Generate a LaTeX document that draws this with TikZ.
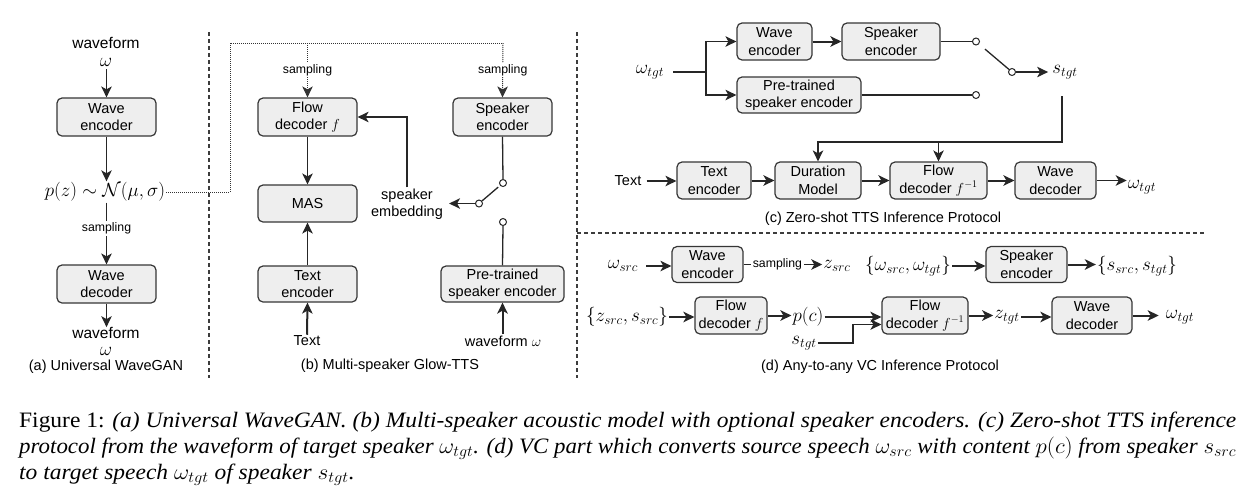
\documentclass[tikz,border=0pt]{standalone}
\usepackage{fix-cm}
\usepackage[no-math]{fontspec}
\setmainfont{Liberation Sans}
\newfontfamily\capserif{Liberation Serif}
\usetikzlibrary{arrows.meta,calc}
\definecolor{boxfill}{RGB}{238,238,238}
\definecolor{boxline}{RGB}{54,54,54}
\definecolor{sepcol}{RGB}{60,60,60}
\newcommand\labfont{\fontsize{14.5}{17.5}\selectfont}
\newcommand\smlfont{\fontsize{12.3}{14}\selectfont}
\newcommand\mthfont{\fontsize{19}{22}\selectfont}
\newcommand\wffont{\fontsize{15.5}{18}\selectfont}
\newcommand\capfnt{\capserif\fontsize{22}{23}\selectfont}
\newsavebox\capboxA
\newlength\capwd
\begin{document}
\sbox\capboxA{\capfnt Figure 1: \textit{(a) Universal WaveGAN. (b) Multi-speaker acoustic model with optional speaker encoders. (c) Zero-shot TTS inference}}%
\setlength\capwd{\wd\capboxA}%
\pgfmathsetmacro\capscale{1217pt/\capwd}%
\begin{tikzpicture}[x=1pt,y=-1pt,
 box/.style={draw=boxline, fill=boxfill, rounded corners=5pt, line width=1.2pt, align=center, font=\labfont, inner sep=0pt, text=black},
 txt/.style={font=\labfont, inner sep=1pt, align=center},
 mth/.style={font=\mthfont, inner sep=1pt},
 lbl/.style={font=\smlfont, fill=white, inner sep=1.5pt},
 conn/.style={line width=1.3pt, draw=black!85},
 tip/.style={-{Stealth[length=11pt,width=10.5pt,inset=3pt]}},
 arr/.style={conn, tip},
 tarr/.style={arr, line width=2pt},
 sw/.style={circle, draw=black!85, fill=white, line width=1pt, inner sep=0pt, minimum size=7pt},
 sepline/.style={line width=1.1pt, draw=sepcol, dash pattern=on 4pt off 3pt},
 dotl/.style={line width=1pt, draw=black!80, dash pattern=on 1pt off 1pt},
]
\useasboundingbox (0,0) rectangle (1260,488);

% separators
\draw[sepline] (209,32) -- (209,378);
\draw[sepline] (577,32) -- (577,378);
\draw[sepline] (577,233) -- (1205,233);

% ---------- (a)
\node[txt,font=\wffont,inner sep=0pt] (wf1) at (106,43) {waveform};
\node[mth,inner sep=0pt] (om1) at (106,62) {$\omega$};
\node[box,minimum width=99pt,minimum height=38pt] (wea) at (106.5,117) {Wave\\encoder};
\node[mth] (pz) at (105,192) {$p(z)\sim\mathcal{N}(\mu,\sigma)$};
\node[box,minimum width=99pt,minimum height=38pt] (wda) at (106.5,284) {Wave\\decoder};
\node[txt,font=\wffont,inner sep=0pt] (wf2) at (106,333) {waveform};
\node[mth,inner sep=0pt] (om2) at (106,351) {$\omega$};
\node[txt] (capa) at (106,367) {(a) Universal WaveGAN};
\draw[arr] ([yshift=-3pt]om1.south -| wea.north) -- (wea.north);
\draw[arr] (wea.south) -- (wea.south |- pz.north);
\draw[arr] (wda.north |- pz.south) -- node[lbl,pos=0.42]{sampling} (wda.north);
\draw[arr] (wda.south) -- (wda.south |- wf2.north);

% ---------- (b)
\node[box,minimum width=99pt,minimum height=38pt] (fd) at (307.5,117) {Flow\\decoder $f$};
\node[box,minimum width=99pt,minimum height=37pt] (mas) at (307.5,203.5) {MAS};
\node[box,minimum width=99pt,minimum height=36pt] (te) at (307.5,284) {Text\\encoder};
\node[txt] (tx) at (307,341) {Text};
\node[box,minimum width=99pt,minimum height=38pt] (spe) at (502.5,117) {Speaker\\encoder};
\node[box,minimum width=123pt,minimum height=36pt] (pte) at (502.5,284) {Pre-trained\\speaker encoder};
\node[txt] (wfb) at (503,341) {waveform $\omega$};
\node[txt] (emb) at (407,204) {speaker\\embedding};
\node[txt] (capb) at (390,366) {(b) Multi-speaker Glow-TTS};
\coordinate (d0) at (230,192);
\coordinate (d1) at (230,43);
\coordinate (d2) at (503,43);
\draw[dotl] (pz.east) -- (d0) -- (d1) -- (d2);
\draw[dotl,tip] (fd.north |- d1) -- node[lbl]{sampling} (fd.north);
\draw[dotl,tip] (d2) -- node[lbl]{sampling} (spe.north);
\draw[arr] (fd) -- (mas);
\draw[arr] (te) -- (mas);
\draw[tarr] (tx.north) -- (te.south);
\draw[arr] (emb.north) |- (fd.east);
\node[sw] (c1) at (503,183) {};
\node[sw] (c2) at (503,222) {};
\node[sw] (pv) at (479,203.5) {};
\draw[conn] (spe.south) -- (c1.north);
\draw[conn] (c2.south) -- (pte.north);
\draw[conn] (pv) -- ($(pv)!0.8!(c1)$);
\draw[arr] (pv.west) -- ([xshift=5pt]pv.west -| emb.east);
\draw[tarr] (wfb.north -| pte.south) -- (pte.south);

% ---------- (c)
\node[mth] (wt) at (650,72) {$\omega_{tgt}$};
\coordinate (br) at (706,72);
\node[box,minimum width=75pt,minimum height=37pt] (wec) at (774.5,41.5) {Wave\\encoder};
\node[box,minimum width=98pt,minimum height=37pt] (spc) at (891,41.5) {Speaker\\encoder};
\node[box,minimum width=124pt,minimum height=36pt] (ptc) at (799,95) {Pre-trained\\speaker encoder};
\node[sw] (c3) at (976,41.5) {};
\node[sw] (c4) at (976,95) {};
\node[sw] (pv2) at (1012,72) {};
\node[mth] (st) at (1065,72) {$s_{tgt}$};
\coordinate (sd) at (1062,96);
\coordinate (sc) at (1062,142);
\node[txt] (txc) at (628,181) {Text};
\node[box,minimum width=74pt,minimum height=37pt] (tec) at (714,180.5) {Text\\encoder};
\node[box,minimum width=86pt,minimum height=37pt] (dur) at (818,180.5) {Duration\\Model};
\node[box,minimum width=97pt,minimum height=37pt] (fdc) at (938.5,180.5) {Flow\\decoder $f^{-1}$};
\node[box,minimum width=81pt,minimum height=37pt] (wdc) at (1055.5,180.5) {Wave\\decoder};
\node[mth] (wo) at (1142,187) {$\omega_{tgt}$};
\node[txt] (capc) at (883,219) {(c) Zero-shot TTS Inference Protocol};
\draw[conn, shorten <=8pt] (wt.east) -- (br);
\draw[arr] (br) |- (wec.west);
\draw[arr] (br) |- (ptc.west);
\draw[tarr] (wec) -- (spc);
\draw[conn] (spc.east) -- (c3.west);
\draw[conn] (ptc.east) -- (c4.west);
\draw[conn] ($(c3)!0.25!(pv2)$) -- (pv2);
\draw[arr, shorten >=3pt] (pv2.east) -- (pv2.east -| st.west);
\draw[arr] (sd) |- (dur.north |- sc) -- (dur.north);
\draw[arr] (fdc.north |- sc) -- (fdc.north);
\draw[arr, shorten <=4pt] (txc.east) -- (txc.east -| tec.west);
\draw[tarr] (tec) -- (dur);
\draw[tarr] (dur) -- (fdc);
\draw[tarr] (fdc) -- (wdc);
\draw[arr] (wdc.east) -- (wdc.east -| wo.west);

% ---------- (d)
\node[mth] (ws) at (623,266) {$\omega_{src}$};
\node[box,minimum width=71pt,minimum height=36pt] (wed) at (707.5,264.5) {Wave\\encoder};
\node[mth] (zs) at (837,266) {$z_{src}$};
\node[mth] (wset) at (908,266) {$\{\omega_{src},\omega_{tgt}\}$};
\node[box,minimum width=81pt,minimum height=36pt] (spd) at (1026.5,264.5) {Speaker\\encoder};
\node[mth] (sset) at (1137,266) {$\{s_{src},s_{tgt}\}$};
\node[mth] (zsset) at (627,317) {$\{z_{src},s_{src}\}$};
\node[box,minimum width=72pt,minimum height=37pt] (fdf) at (731,315.5) {Flow\\decoder $f$};
\node[mth] (pc) at (808,317) {$p(c)$};
\node[box,minimum width=86pt,minimum height=37pt] (fdi) at (925,315.5) {Flow\\decoder $f^{-1}$};
\node[mth] (st2) at (804,343) {$s_{tgt}$};
\node[mth] (zt) at (1007,317) {$z_{tgt}$};
\node[box,minimum width=80pt,minimum height=37pt] (wdd) at (1092,315.5) {Wave\\decoder};
\node[mth] (wo2) at (1180,317) {$\omega_{tgt}$};
\node[txt] (capd) at (880,367) {(d) Any-to-any VC Inference Protocol};
\coordinate (j1) at (853,342);
\draw[arr, shorten <=7pt] (ws.east) -- (ws.east -| wed.west);
\draw[arr] (wed.east) -- node[lbl,pos=0.43]{sampling} (wed.east -| zs.west);
\draw[tarr] (wset.east) -- (wset.east -| spd.west);
\draw[tarr] (spd.east) -- (spd.east -| sset.west);
\draw[tarr] (zsset.east) -- (zsset.east -| fdf.west);
\draw[tarr] (fdf.east) -- (fdf.east -| pc.west);
\draw[tarr] (pc.east) -- (pc.east -| fdi.west);
\draw[arr] (st2.east) -- (st2.east -| j1) |- ([yshift=-9pt]fdi.west);
\draw[tarr] (fdi.east) -- (fdi.east -| zt.west);
\draw[tarr] (zt.east) -- (zt.east -| wdd.west);
\draw[tarr, shorten >=6pt] (wdd.east) -- (wdd.east -| wo2.west);

% ---------- caption
\node[anchor=base west, inner sep=0pt] (cap1) at (19,427) {\resizebox{1217pt}{\height}{\capfnt Figure 1: \textit{(a) Universal WaveGAN. (b) Multi-speaker acoustic model with optional speaker encoders. (c) Zero-shot TTS inference}}};
\node[anchor=base west, inner sep=0pt] (cap2) at (19,453) {\resizebox{1217pt}{\height}{\capfnt\itshape protocol from the waveform of target speaker $\omega_{tgt}$. (d) VC part which converts source speech $\omega_{src}$ with content $p(c)$ from speaker $s_{src}$}};
\node[anchor=base west, inner sep=0pt] (cap3) at (19,479) {\scalebox{\capscale}[1]{\capfnt\itshape to target speech $\omega_{tgt}$ of speaker $s_{tgt}$.}};
\end{tikzpicture}
\end{document}
